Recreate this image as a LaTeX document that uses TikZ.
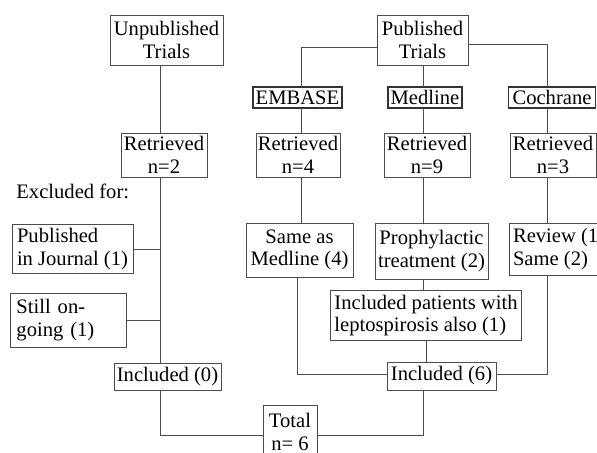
\documentclass[tikz,border=0pt]{standalone}
\usepackage{fontspec}
\setmainfont{Liberation Serif}
\usetikzlibrary{positioning}

\begin{document}
\begin{tikzpicture}[x=0.5pt,y=-0.5pt]
\tikzstyle{box}=[draw=black!70,thin,outer sep=0pt,inner sep=1pt,align=center,font=\fontsize{10.3}{11.3}\selectfont]
\tikzstyle{leftbox}=[box,align=left,inner sep=2pt]
\tikzstyle{srcbox}=[box,draw=black!80,line width=0.7pt]
\tikzstyle{wire}=[draw=black!70,thin]

\useasboundingbox (0,0) rectangle (597,453);

% unpublished branch
\node (unpub) [box,minimum width=56.5pt,minimum height=25pt] at (166.5,40) {Unpublished\\Trials};
\node (ret2) [box,minimum width=43pt,minimum height=22pt] at (164,155) {Retrieved\\n=2};
\node (excl) [anchor=west,inner sep=0pt,font=\fontsize{10.3}{11.3}\selectfont] at (16,191) {Excluded for:};
\node (journal) [leftbox,minimum width=60.5pt,minimum height=24pt] at (72.5,249) {Published\\in Journal (1)};
\node (ongoing) [leftbox,inner sep=3pt,text width=52pt,minimum height=27pt] at (68.5,320) {Still on-\\going (1)};
\node (inc0) [box,minimum width=53.5pt,minimum height=13.5pt] at (167.5,376.5) {Included (0)};

% published branch
\node (pub) [box,minimum width=45.5pt,minimum height=25pt] at (422.5,40) {Published\\Trials};
\node (embase) [srcbox,minimum width=44.5pt,minimum height=10.5pt] at (297.5,97.5) {EMBASE};
\node (medline) [srcbox,minimum width=37pt,minimum height=10.5pt] at (425,97.5) {Medline};
\node (cochrane) [srcbox,minimum width=43.5pt,minimum height=10.5pt] at (552,97.5) {Cochrane};

\node (ret4) [box,minimum width=41pt,minimum height=22pt] at (298,155) {Retrieved\\n=4};
\node (ret9) [box,minimum width=43pt,minimum height=22pt] at (427,155) {Retrieved\\n=9};
\node (ret3) [box,minimum width=43pt,minimum height=22pt] at (553,155) {Retrieved\\n=3};

\node (same) [box,minimum width=53.5pt,minimum height=27pt] at (299.5,250) {Same as\\Medline (4)};
\node (proph) [box,minimum width=56.5pt,minimum height=28pt] at (431.5,251) {Prophylactic\\treatment (2)};
\node (review) [leftbox,anchor=west,minimum height=26pt] at (509,249) {Review (1)\\Same (2)};
\node (incpat) [leftbox,minimum width=93pt,minimum height=24.5pt] at (426,315.5) {Included patients with\\leptospirosis also (1)};
\node (inc6) [box,minimum width=54.5pt,minimum height=14pt] at (441.5,376) {Included (6)};

\node (total) [box,minimum width=27pt,minimum height=27pt] at (290,432) {Total\\n= 6};

\coordinate (ltrunk) at (160,0);
\coordinate (etrunk) at (301,0);
\coordinate (mtrunk) at (423,0);
\coordinate (rtrunk) at (547,0);

\draw[wire] (unpub.south -| ltrunk) -- (ret2.north -| ltrunk);
\draw[wire] (ret2.south -| ltrunk) -- (inc0.north -| ltrunk);
\draw[wire] (journal.east) -- (journal.east -| ltrunk);
\draw[wire] (ongoing.east) -- (ongoing.east -| ltrunk);
\draw[wire] (inc0.south -| ltrunk) |- ([yshift=-1.5pt]total.west);

\draw[wire] ([yshift=-3.5pt]pub.west) -| (etrunk |- embase.north);
\draw[wire] ([yshift=-2pt]pub.east) -| (rtrunk |- cochrane.north);
\draw[wire] (pub.south -| mtrunk) -- (medline.north -| mtrunk);

\draw[wire] (embase.south -| etrunk) -- (ret4.north -| etrunk);
\draw[wire] (medline.south -| mtrunk) -- (ret9.north -| mtrunk);
\draw[wire] (cochrane.south -| rtrunk) -- (ret3.north -| rtrunk);

\draw[wire] (ret4.south -| etrunk) -- (same.north -| etrunk);
\draw[wire] (ret9.south -| mtrunk) -- (proph.north -| mtrunk);
\draw[wire] (ret3.south -| rtrunk) -- (review.north -| rtrunk);

\draw[wire] (proph.south -| mtrunk) -- (incpat.north -| mtrunk);
\draw[wire] (incpat.south) -- (incpat.south |- inc6.north);
\draw[wire] ([xshift=-1pt]same.south) |- ([yshift=1pt]inc6.west);
\draw[wire] (review.south -| rtrunk) |- ([yshift=1pt]inc6.east);
\draw[wire] (inc6.south -| mtrunk) |- ([yshift=-1.5pt]total.east);

\end{tikzpicture}
\end{document}
